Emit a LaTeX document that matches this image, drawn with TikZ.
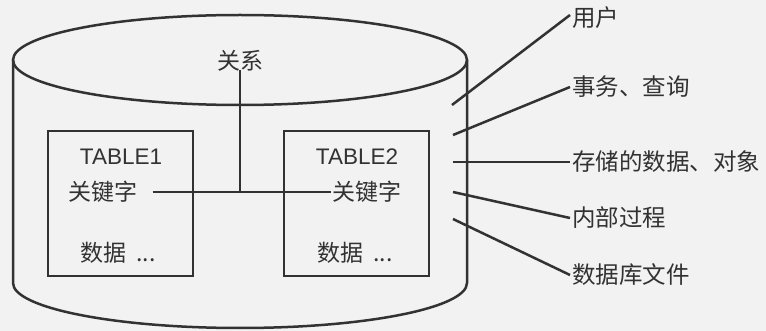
\documentclass[tikz,border=0pt]{standalone}
\usepackage{fontspec}
\setmainfont{Liberation Sans}
\newfontfamily\cjk{Noto Sans CJK SC}
\definecolor{ink}{RGB}{50,50,50}
\definecolor{bg}{RGB}{242,242,242}
\begin{document}
\begin{tikzpicture}[x=1pt,y=-1pt,
  wire/.style={draw=ink,line width=2.5pt},
  tbox/.style={draw=ink,line width=2.5pt,minimum width=145pt,minimum height=145pt,inner sep=0pt},
  zh/.style={text=ink,inner sep=1pt,font=\cjk\fontsize{23}{27}\selectfont},
  en/.style={text=ink,inner sep=1pt,font=\fontsize{22.5}{26}\selectfont},
  lab/.style={text=ink,anchor=west,inner sep=2pt,font=\cjk\fontsize{23.5}{27}\selectfont}]
\fill[bg] (0,0) rectangle (766,331);
\useasboundingbox (0,0) rectangle (766,331);
% cylinder
\draw[wire] (240,60) ellipse [x radius=227, y radius=45];
\draw[wire] (13,60) -- (13,283) arc[start angle=180, end angle=0, x radius=227, y radius=45] -- (467,60);
% tables
\node[tbox] (t1) at (120.5,203.5) {};
\node[tbox] (t2) at (356.5,203.5) {};
\node[en] (n1) at (121,157) {TABLE1};
\node[en] (n2) at (357,157) {TABLE2};
\node[zh] (k1) at (103,192) {关键字};
\node[zh] (k2) at (367,192) {关键字};
\node[zh] (d1) at (118,253) {数据\ \ ...};
\node[zh] (d2) at (355,253) {数据\ \ ...};
\node[zh] (rel) at (240,61) {关系};
\coordinate (j) at (240,192);
\draw[wire] ([xshift=14pt]k1.east) -- (k2.west);
\draw[wire] ([yshift=3pt]rel.south) -- (j);
% right labels
\node[lab] (l1) at (570,18) {用户};
\node[lab] (l2) at (570,87) {事务、查询};
\node[lab] (l3) at (570,162) {存储的数据、对象};
\node[lab] (l4) at (570,218) {内部过程};
\node[lab] (l5) at (570,275) {数据库文件};
\coordinate (s1) at (452,105);
\coordinate (s2) at (453,135);
\coordinate (s3) at (453,162);
\coordinate (s4) at (453,192);
\coordinate (s5) at (453,219);
\draw[wire] (s1) -- ([yshift=3pt]l1.west);
\draw[wire] (s2) -- (l2.west);
\draw[wire] (s3) -- (l3.west);
\draw[wire] (s4) -- (l4.west);
\draw[wire] (s5) -- (l5.west);
\end{tikzpicture}
\end{document}
